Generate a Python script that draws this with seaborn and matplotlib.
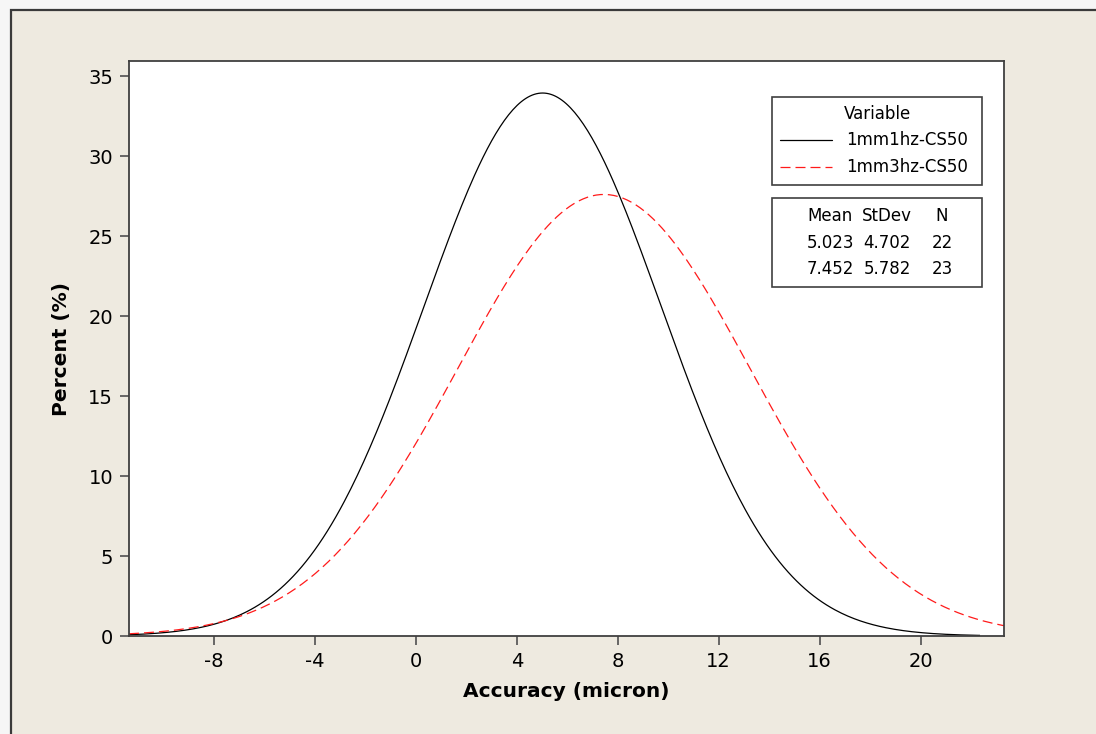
import numpy as np
import pandas as pd
import seaborn as sns
import matplotlib.pyplot as plt
from matplotlib.patches import Rectangle

# fitted normal curves (Minitab style), values from the summary table
variables = ['1mm1hz-CS50', '1mm3hz-CS50']
means = [5.023, 7.452]
stdevs = [4.702, 5.782]
counts = [22, 23]
bin_width = 4
x_ranges = [(-11.36, 22.35), (-11.36, 23.3)]

x_ticks = [-8, -4, 0, 4, 8, 12, 16, 20]
y_ticks = [0, 5, 10, 15, 20, 25, 30, 35]

rows = []
for name, m, s, (lo, hi) in zip(variables, means, stdevs, x_ranges):
    xs = np.linspace(lo, hi, 400)
    pct = 100 * bin_width * np.exp(-0.5 * ((xs - m) / s) ** 2) / (s * np.sqrt(2 * np.pi))
    rows.append(pd.DataFrame({'Accuracy': xs, 'Percent': pct, 'Variable': name}))
df = pd.concat(rows, ignore_index=True)

sns.set_style('ticks')
plt.rcParams['font.family'] = ['DejaVu Sans']
plt.rcParams['axes.unicode_minus'] = False
plt.rcParams['text.color'] = 'black'
plt.rcParams['axes.labelcolor'] = 'black'
plt.rcParams['xtick.labelcolor'] = 'black'
plt.rcParams['ytick.labelcolor'] = 'black'

beige = '#eeeae0'
fig = plt.figure(figsize=(10.96, 7.34), dpi=100, facecolor='#f6f6f6')
# window frame
frame = Rectangle((11 / 1096, -0.01), 1.01, (734 - 10) / 734 + 0.01,
                  transform=fig.transFigure, facecolor=beige,
                  edgecolor='#3a3a3a', linewidth=1.6, zorder=-10)
fig.patches.append(frame)

ax = fig.add_axes([129 / 1096, 1 - 636 / 734, (1004 - 129) / 1096, (636 - 61) / 734])
ax.set_zorder(5)
ax.set_facecolor('white')

sns.lineplot(data=df, x='Accuracy', y='Percent', hue='Variable', style='Variable',
             palette=['black', '#ff1a1a'], dashes=[(1, 0), (8, 4)], linewidth=0.9,
             sort=False, ax=ax, legend=False)

ax.set_xlim(-11.36, 23.3)
ax.set_ylim(0, 35.94)
ax.set_xticks(x_ticks)
ax.set_yticks(y_ticks)
ax.tick_params(axis='both', direction='out', length=6.5, width=1.2, color='#505050',
               labelsize=14, pad=5)
for sp in ax.spines.values():
    sp.set_color('#404040')
    sp.set_linewidth(1.3)

ax.set_xlabel('Accuracy (micron)', fontsize=14.5, fontweight='bold', labelpad=8)
ax.set_ylabel('Percent (%)', fontsize=14.5, fontweight='bold', labelpad=12)

# legend box
W, H = 875, 575
def ax_x(px):
    return (px - 129) / W
def ax_y(py):
    return (636 - py) / H

ax.add_patch(Rectangle((ax_x(772), ax_y(185)), ax_x(982) - ax_x(772), ax_y(97) - ax_y(185),
                       transform=ax.transAxes, facecolor='white', edgecolor='#404040',
                       linewidth=1.2, zorder=5))
ax.text(ax_x(877), ax_y(114), 'Variable', transform=ax.transAxes, ha='center', va='center',
        fontsize=12, zorder=6)
colors = ['black', '#ff1a1a']
styles = ['-', (0, (8, 4))]
for i, name in enumerate(variables):
    yy = ax_y(140 + i * 27)
    ax.plot([ax_x(780), ax_x(832)], [yy, yy], transform=ax.transAxes, color=colors[i],
            linestyle=styles[i], linewidth=0.9, zorder=6)
    ax.text(ax_x(846), yy, name, transform=ax.transAxes, ha='left', va='center',
            fontsize=12, zorder=6)

# summary table box
ax.add_patch(Rectangle((ax_x(772), ax_y(287)), ax_x(982) - ax_x(772), ax_y(198) - ax_y(287),
                       transform=ax.transAxes, facecolor='white', edgecolor='#404040',
                       linewidth=1.2, zorder=5))
col_x = [830, 887, 942]
header = ['Mean', 'StDev', 'N']
for cx, h in zip(col_x, header):
    ax.text(ax_x(cx), ax_y(216), h, transform=ax.transAxes, ha='center', va='center',
            fontsize=12, zorder=6)
for i in range(len(variables)):
    vals = [f'{means[i]:.3f}', f'{stdevs[i]:.3f}', f'{counts[i]}']
    for cx, v in zip(col_x, vals):
        ax.text(ax_x(cx), ax_y(243 + i * 26), v, transform=ax.transAxes, ha='center',
                va='center', fontsize=12, zorder=6)

fig.savefig('out.png', dpi=100, facecolor=fig.get_facecolor())
